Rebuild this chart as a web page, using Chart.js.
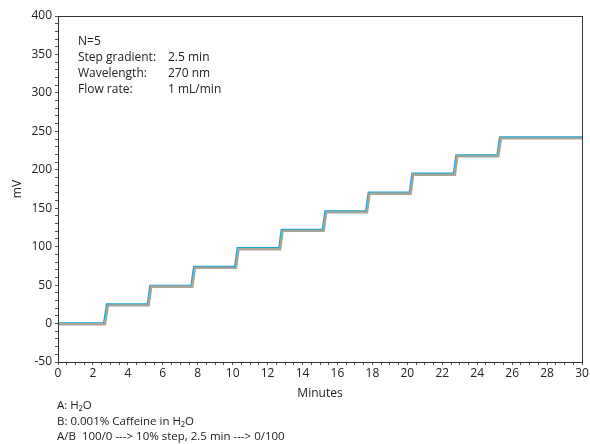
<!DOCTYPE html>
<html>
<head>
<meta charset="utf-8">
<script src="https://cdn.jsdelivr.net/npm/chart.js@4"></script>
<style>
  html, body { margin: 0; padding: 0; background: #fff; }
  #wrap { position: relative; width: 590px; height: 444px; font-family: 'Open Sans', sans-serif; color: #222; }
  #wrap canvas { position: absolute; left: 0; top: 0; }
  .note { position: absolute; font-size: 12px; line-height: 16px; white-space: pre; }
  .foot { position: absolute; left: 57px; top: 397px; font-size: 11.5px; line-height: 15.5px; white-space: pre; }
</style>
</head>
<body>
<div id="wrap">
  <canvas id="chart" width="590" height="444"></canvas>
  <div class="note" style="left:78px;top:33px;">N=5<br>Step gradient:<br>Wavelength:<br>Flow rate:</div>
  <div class="note" style="left:168px;top:49px;">2.5 min<br>270 nm<br>1 mL/min</div>
  <div class="foot">A: H₂O<br>B: 0.001% Caffeine in H₂O<br>A/B  100/0 ---&gt; 10% step, 2.5 min ---&gt; 0/100</div>
</div>
<script>
// step risers (minutes) and plateau levels (mV)
const riseStart = [2.65, 5.15, 7.65, 10.15, 12.68, 15.17, 17.65, 20.15, 22.68, 25.17];
const riseEnd   = [2.82, 5.3, 7.8, 10.3, 12.82, 15.32, 17.8, 20.3, 22.82, 25.32];
const riseStartB = [2.69, 5.19, 7.69, 10.19, 12.72, 15.21, 17.69, 20.19, 22.72, 25.21];
const riseEndB   = [2.86, 5.34, 7.84, 10.34, 12.86, 15.36, 17.84, 20.34, 22.86, 25.36];
const levelsBlue = [0, 24.6, 48.8, 73.4, 97.7, 121.6, 145.6, 169.9, 194.6, 218.4, 241.8];
const levelsGray = [-1.0, 23.6, 47.8, 72.4, 96.7, 120.6, 144.6, 168.9, 193.6, 217.4, 240.8];
const xMin = 0, xMax = 30, yMin = -50, yMax = 400;

const buildSteps = (starts, ends, levels) => {
  const pts = [{ x: xMin, y: levels[0] }];
  starts.forEach((s, i) => {
    pts.push({ x: s, y: levels[i] });
    pts.push({ x: ends[i], y: levels[i + 1] });
  });
  pts.push({ x: xMax, y: levels[levels.length - 1] });
  return pts;
};

// box round the plot area
const frame = {
  id: 'frame',
  afterDraw(chart) {
    const { ctx, chartArea: a } = chart;
    ctx.save();
    ctx.strokeStyle = '#333';
    ctx.lineWidth = 1;
    ctx.strokeRect(a.left + 0.5, a.top + 0.5, a.right - a.left, a.bottom - a.top);
    ctx.restore();
  }
};

const tickFont = { family: "'Open Sans', sans-serif", size: 12 };

new Chart(document.getElementById('chart'), {
  type: 'line',
  data: {
    datasets: [
      { data: buildSteps(riseStartB, riseEndB, levelsGray), borderColor: '#aaa595', borderWidth: 2.4, pointRadius: 0, tension: 0 },
      { data: buildSteps(riseStart, riseEnd, levelsBlue), borderColor: '#17a5dc', borderWidth: 2.8, pointRadius: 0, tension: 0 }
    ]
  },
  options: {
    responsive: false,
    animation: false,
    layout: { padding: { left: 10, right: 8, top: 16, bottom: 43 } },
    plugins: { legend: { display: false }, tooltip: { enabled: false } },
    scales: {
      x: {
        type: 'linear', min: xMin, max: xMax,
        afterFit: s => { s.height = 39; },
        border: { display: true, color: '#333' },
        grid: { drawOnChartArea: false, tickLength: 3, color: '#555' },
        ticks: {
          stepSize: 0.5, autoSkip: false, maxRotation: 0, padding: 1, color: '#222', font: tickFont,
          callback: v => (v % 2 === 0 ? String(v) : '')
        },
        title: { display: true, text: 'Minutes', color: '#222', font: tickFont, padding: 0 }
      },
      y: {
        min: yMin, max: yMax,
        afterFit: s => { s.width = 48; },
        border: { display: true, color: '#333' },
        grid: { drawOnChartArea: false, tickLength: 3, color: '#555' },
        ticks: {
          stepSize: 10, autoSkip: false, padding: 3, color: '#222', font: tickFont,
          callback: v => (v % 50 === 0 ? String(v) : '')
        },
        title: { display: true, text: 'mV', color: '#222', font: tickFont, padding: 0 }
      }
    }
  },
  plugins: [frame]
});
</script>
</body>
</html>
